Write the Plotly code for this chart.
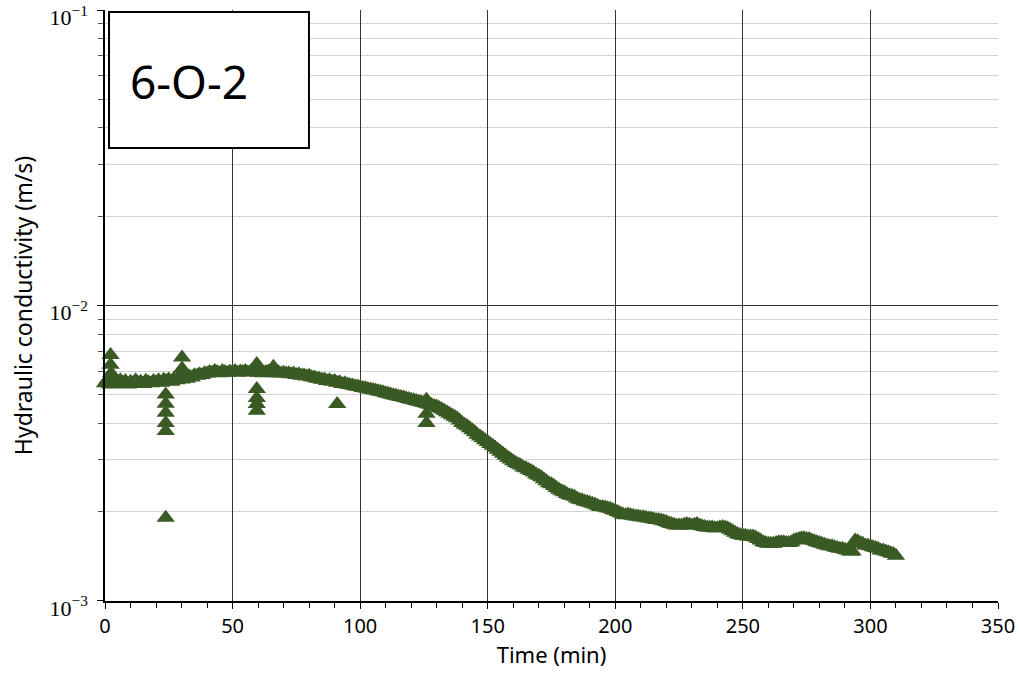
import plotly.graph_objects as go

# Main trend, 1-min readings (time in min, hydraulic conductivity in 1e-3 m/s)
time_min = list(range(0, 311))
k_milli = [
    5.45, 5.60, 5.40, 5.55, 5.50, 5.42, 5.58, 5.48, 5.55, 5.40,
    5.52, 5.45, 5.58, 5.47, 5.52, 5.42, 5.56, 5.50, 5.45, 5.55,
    5.50, 5.58, 5.48, 5.60, 5.55, 5.62, 5.52, 5.65, 5.58, 5.68,
    5.62, 5.70, 5.65, 5.75, 5.70, 5.80, 5.78, 5.85, 5.82, 5.90,
    5.88, 5.95, 5.92, 6.00, 5.95, 5.90, 6.00, 5.95, 5.92, 5.98,
    5.95, 6.00, 5.92, 5.98, 5.95, 6.00, 5.93, 5.97, 5.95, 5.98,
    5.92, 5.97, 5.90, 5.95, 5.98, 5.92, 5.96, 5.90, 5.94, 5.88,
    5.92, 5.88, 5.90, 5.85, 5.88, 5.82, 5.85, 5.78, 5.80, 5.75,
    5.78, 5.72, 5.70, 5.66, 5.65, 5.60, 5.62, 5.55, 5.58, 5.52,
    5.55, 5.48, 5.50, 5.42, 5.45, 5.40, 5.38, 5.36, 5.33, 5.32,
    5.30, 5.26, 5.25, 5.22, 5.20, 5.17, 5.15, 5.12, 5.10, 5.08,
    5.05, 5.03, 5.00, 4.97, 4.95, 4.92, 4.90, 4.88, 4.85, 4.82,
    4.80, 4.78, 4.75, 4.72, 4.70, 4.68, 4.65, 4.62, 4.60, 4.57,
    4.55, 4.50, 4.45, 4.40, 4.35, 4.30, 4.25, 4.20, 4.15, 4.08,
    4.00, 3.95, 3.90, 3.84, 3.78, 3.72, 3.65, 3.60, 3.55, 3.50,
    3.45, 3.40, 3.35, 3.30, 3.25, 3.20, 3.15, 3.10, 3.05, 3.01,
    2.97, 2.93, 2.90, 2.87, 2.83, 2.81, 2.78, 2.75, 2.72, 2.68,
    2.65, 2.62, 2.58, 2.54, 2.50, 2.48, 2.45, 2.41, 2.38, 2.35,
    2.33, 2.30, 2.28, 2.27, 2.25, 2.22, 2.20, 2.19, 2.17, 2.16,
    2.15, 2.13, 2.12, 2.10, 2.08, 2.08, 2.07, 2.06, 2.05, 2.03,
    2.02, 2.00, 1.98, 1.96, 1.95, 1.96, 1.95, 1.94, 1.93, 1.93,
    1.92, 1.92, 1.91, 1.90, 1.90, 1.89, 1.88, 1.88, 1.87, 1.86,
    1.85, 1.83, 1.82, 1.81, 1.80, 1.80, 1.80, 1.81, 1.82, 1.81,
    1.80, 1.81, 1.82, 1.80, 1.79, 1.78, 1.77, 1.77, 1.77, 1.76,
    1.76, 1.77, 1.78, 1.77, 1.76, 1.74, 1.72, 1.70, 1.68, 1.67,
    1.66, 1.66, 1.65, 1.65, 1.65, 1.64, 1.62, 1.60, 1.58, 1.57,
    1.56, 1.56, 1.56, 1.57, 1.58, 1.58, 1.58, 1.57, 1.57, 1.58,
    1.60, 1.61, 1.62, 1.63, 1.63, 1.62, 1.62, 1.60, 1.59, 1.58,
    1.57, 1.56, 1.55, 1.54, 1.53, 1.53, 1.52, 1.51, 1.50, 1.50,
    1.49, 1.48, 1.47, 1.47, 1.60, 1.59, 1.57, 1.56, 1.54, 1.54,
    1.53, 1.52, 1.51, 1.50, 1.48, 1.48, 1.47, 1.46, 1.45, 1.44,
    1.42,
]

# Scattered outlier readings (time in min, K in 1e-3 m/s)
out_time = [2.2, 2.2, 2.4, 23.8, 23.8, 23.8, 23.8, 23.8, 23.8, 30.2, 30.2, 30.2,
            59.5, 59.5, 59.5, 59.5, 59.5, 66.0, 91.0, 126.0, 126.0, 126.0]
out_k_milli = [6.8, 6.3, 5.9, 5.0, 4.65, 4.33, 4.0, 3.76, 1.91, 6.67, 6.12, 5.9,
               6.34, 5.22, 4.86, 4.64, 4.4, 6.2, 4.64, 4.8, 4.3, 4.0]

x_ticks = [0, 50, 100, 150, 200, 250, 300, 350]
y_major = [1e-3, 1e-2, 1e-1]
y_major_text = ["10<sup>−3</sup>", "10<sup>−2</sup>", "10<sup>−1</sup>"]
y_minor = [m * 10.0 ** e for e in (-3, -2) for m in range(2, 10)]

t_all = time_min + out_time
k_all = [v * 1e-3 for v in k_milli] + [v * 1e-3 for v in out_k_milli]

GREEN = "#3a5a24"

fig = go.Figure()
fig.add_trace(go.Scatter(
    x=t_all, y=k_all, mode="markers",
    marker=dict(symbol="triangle-up", size=16, color=GREEN, line=dict(width=0)),
    showlegend=False, cliponaxis=False,
))

fig.update_layout(
    width=1020, height=675,
    margin=dict(l=105, r=22, t=10, b=74),
    paper_bgcolor="white", plot_bgcolor="white",
    font=dict(family="Noto Sans", color="black"),
    xaxis=dict(
        range=[0, 350], tickvals=x_ticks, ticks="outside", ticklen=6, tickcolor="black",
        showline=True, linecolor="black", linewidth=1.5,
        showgrid=True, gridcolor="#333333", gridwidth=1,
        zeroline=False, automargin=False, ticklabeloverflow="allow",
        tickfont=dict(family="Noto Sans", size=20),
        title=dict(text="Time (min)", font=dict(family="Noto Sans", size=22), standoff=5),
        minor=dict(dtick=10, ticks="outside", ticklen=5, tickcolor="black", showgrid=False),
    ),
    yaxis=dict(
        type="log", range=[-3.0005, -0.9995],
        tickvals=y_major, ticktext=y_major_text,
        ticks="outside", ticklen=6, tickcolor="black",
        showline=True, linecolor="black", linewidth=1.5,
        showgrid=True, gridcolor="#333333", gridwidth=1,
        zeroline=False, automargin=False, ticklabeloverflow="allow",
        ticklabelstandoff=5, ticklabelshift=7,
        tickfont=dict(family="Liberation Serif", size=22),
        title=dict(text="Hydraulic conductivity (m/s)", font=dict(family="Noto Sans", size=23), standoff=10),
        minor=dict(tickvals=y_minor, ticks="outside", ticklen=5, tickcolor="#555555",
                   showgrid=True, gridcolor="#d4d4d4", gridwidth=1),
    ),
    shapes=[dict(type="rect", xref="paper", yref="paper",
                 x0=0.0045, x1=0.2284, y0=0.7665, y1=0.9966,
                 line=dict(color="black", width=2), fillcolor="white", layer="above")],
    annotations=[dict(text="6-O-2", xref="paper", yref="paper", x=0.026, y=0.880,
                      xanchor="left", yanchor="middle", showarrow=False,
                      font=dict(family="Noto Sans", size=46, color="black"))],
)

fig.write_html("out.html")
